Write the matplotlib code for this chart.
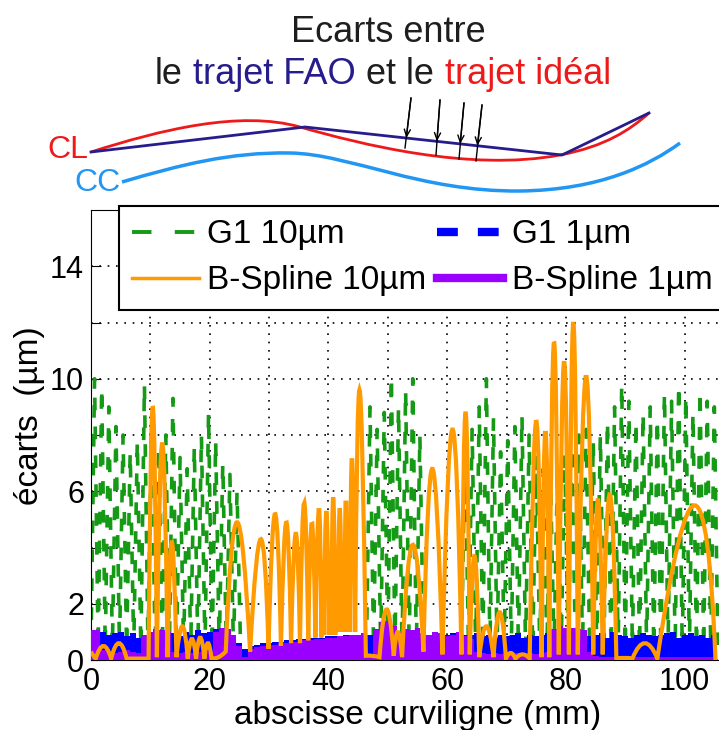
import numpy as np
import matplotlib
matplotlib.use('Agg')
import matplotlib.pyplot as plt
from matplotlib.path import Path
from matplotlib.patches import PathPatch
from matplotlib.lines import Line2D

plt.rcParams['font.family'] = ['Liberation Sans', 'DejaVu Sans']

# ---- donnees (mm / um) ----
# G1 10um : un pic par corde de 1.2 mm, trois troncons visibles
g1_10_starts = [0.0, 46.4, 62.4]
g1_10_peaks = [
    [10.0, 9.7, 9.0, 8.3, 8.0, 7.4, 7.8, 9.8, 8.4, 7.6, 8.0, 9.3, 7.2, 6.8,
     7.6, 8.0, 8.8, 7.8, 7.0, 6.6, 6.0],
    [9.0, 8.2, 8.8, 10.1, 9.0, 9.6, 10.0, 8.0],
    [7.5, 8.2, 9.0, 10.0, 8.6, 7.4, 7.8, 8.3, 8.7, 8.0, 7.2, 6.8, 6.5, 7.0,
     7.3, 7.6, 8.0, 8.2, 7.8, 8.0, 8.5, 9.0, 9.8, 9.2, 8.5, 8.8, 9.0, 8.6,
     9.5, 9.2, 9.8, 9.4, 8.8, 9.6, 9.2, 9.0],
]
g1_10_step = 1.2
g1_10_floor = 0.4

# G1 1um et B-Spline 1um : hauteur de la bande, un point par mm (0..105)
abscisse_mm = np.arange(0, 106)
g1_1_top = [1.0, 0.95, 1.0, 0.9, 0.95, 1.0, 0.85, 0.95, 0.8, 0.9,
            0.95, 1.0, 0.9, 1.0, 0.95, 0.85, 1.0, 0.9, 1.05, 0.95,
            1.0, 1.1, 0.9, 0.95, 0.8, 0.6, 0.4, 0.5, 0.55, 0.6,
            0.6, 0.65, 0.65, 0.7, 0.7, 0.75, 0.75, 0.8, 0.8, 0.8,
            0.85, 0.85, 0.85, 0.9, 0.9, 0.9, 0.9, 0.9, 0.9, 0.9,
            0.9, 0.9, 0.9, 0.9, 0.9, 0.9, 0.9, 0.9, 0.9, 0.9,
            0.9, 0.95, 0.85, 0.9, 0.9, 0.95, 0.85, 0.9, 0.8, 0.9,
            0.85, 0.9, 0.95, 0.8, 0.9, 0.85, 0.9, 0.95, 0.9, 0.9,
            0.9, 0.85, 0.9, 0.95, 0.85, 0.9, 0.95, 0.8, 1.0, 0.9,
            0.85, 0.8, 0.9, 0.95, 0.9, 0.85, 0.9, 0.95, 1.0, 0.8,
            0.9, 0.95, 0.85, 0.9, 0.8, 0.9]
bspline_1_top = [1.05, 1.05, 0.35, 0.3, 0.25, 0.3, 0.35, 0.3, 0.25, 0.9,
                 1.0, 1.1, 1.05, 1.0, 0.3, 0.25, 0.3, 0.25, 0.3, 0.3,
                 0.3, 1.0, 1.15, 1.1, 0.9, 0.5, 0.1, 0.4, 0.45, 0.5,
                 0.55, 0.55, 0.6, 0.6, 0.65, 0.65, 0.7, 0.7, 0.75, 0.75,
                 0.8, 0.8, 0.85, 0.85, 0.9, 0.9, 0.95, 0.2, 1.1, 1.35,
                 1.4, 1.2, 1.0, 1.1, 1.05, 1.15, 0.95, 0.9, 1.0, 0.95,
                 0.85, 0.9, 1.0, 0.85, 0.75, 0.3, 0.25, 0.2, 0.25, 0.2,
                 0.25, 0.2, 0.25, 0.2, 0.25, 0.2, 0.25, 0.3, 1.1, 1.2,
                 1.15, 1.15, 1.1, 1.05, 0.3, 0.15, 0.1, 0.1, 0.1, 0.1,
                 0.1, 0.1, 0.1, 0.1, 0.1, 0.1, 0.1, 0.1, 0.1, 0.1,
                 0.1, 0.1, 0.1, 0.1, 0.1, 0.1]

# B-Spline 10um : creux (x, y) et sommets (x, y) des arches
bs10_valley_x = [0.0, 0.8, 3.4, 6.0, 9.7, 11.1, 12.9, 14.4, 16.3, 17.7,
                 19.1, 20.3, 22.7, 26.8, 29.9, 32.0, 33.7, 35.2, 36.6, 37.8,
                 38.8, 39.2, 40.05, 40.45, 41.15, 41.55, 42.25, 42.65, 43.25, 43.65,
                 44.5, 46.3, 48.6, 51.0, 52.4,
                 56.0, 59.2, 62.4, 63.8, 65.4, 67.8, 69.9, 71.5, 73.9, 75.9,
                 77.2, 78.8, 80.5, 82.0, 84.6, 86.2, 88.5, 91.2, 95.4, 105.2]
bs10_valley_y = [0.3, 0.05, 0.05, 0.05, 0.05, 0.1, 0.1, 0.1, 0.05, 0.05,
                 0.05, 0.05, 0.3, 0.3, 0.4, 0.5, 0.6, 0.6, 0.7, 0.8,
                 0.8, 0.9, 0.9, 0.9, 0.9, 1.0, 1.0, 1.0, 1.0, 1.0,
                 1.0, 0.15, 0.1, 0.15, 0.1,
                 0.3, 0.2, 0.2, 0.2, 0.1, 0.1, 0.05, 0.05, 0.05, 0.1,
                 0.1, 0.2, 0.2, 0.2, 0.2, 0.2, 0.05, 0.05, 0.05, 0.0]
bs10_peak_x = [0.4, 2.1, 4.7, 7.85, 10.4, 12.0, 13.6, 15.4, 17.0, 18.4,
               19.7, 21.5, 24.6, 28.6, 31.0, 32.9, 34.5, 35.9, 37.2, 38.4,
               39.0, 39.65, 40.25, 40.8, 41.35, 41.9, 42.45, 42.95, 43.45, 43.95,
               45.25, 47.45, 49.8, 51.7, 54.2,
               57.5, 60.9, 63.1, 64.6, 66.6, 68.85, 70.7, 72.7, 75.0, 76.55,
               78.0, 79.7, 81.25, 83.4, 85.4, 87.4, 89.85, 93.3, 101.7]
bs10_peak_y = [0.15, 0.5, 0.6, 0.05, 9.0, 7.7, 4.2, 1.2, 0.75, 0.8,
               0.6, 0.1, 4.9, 4.3, 5.2, 4.9, 4.5, 5.6, 4.9, 5.4,
               2.8, 5.3, 3.5, 5.8, 3.2, 5.4, 3.8, 5.9, 4.2, 7.2,
               9.6, 0.15, 1.8, 1.0, 4.1,
               6.8, 8.2, 8.8, 3.7, 1.2, 1.7, 0.25, 0.2, 8.5, 8.2,
               11.3, 10.6, 12.0, 10.1, 5.7, 5.9, 0.08, 0.6, 5.5]

xticks = list(range(0, 101, 10))
xticklabels = ['0', '', '20', '', '40', '', '60', '', '80', '', '100']
yticks = list(range(0, 15, 2))
yticklabels = ['0', '2', '', '6', '', '10', '', '14']

# schema du haut (coordonnees pixel de l'image)
fao_pts = [(91, 152), (305, 127), (562, 155), (649, 113)]
ideal_pts = [(91, 152), (160, 130), (240, 110), (300, 127),
             (360, 144), (470, 172), (560, 155),
             (605, 146.5), (630, 130), (649, 113)]
cc_pts = [(122, 182), (180, 165), (230, 152), (290, 153),
          (350, 154), (420, 192), (520, 191),
          (600, 190), (650, 165), (680, 143)]
arrow_top = [(411, 98), (440, 100), (464, 103), (482, 105)]
arrow_bot = [(405, 148), (436, 155), (459, 159), (476, 161)]

C_G10 = '#159a15'
C_G1 = '#0000ff'
C_BS10 = '#ff9a00'
C_BS1 = '#9900ff'
C_DARK = '#1e1e1e'
C_NAVY = '#261c8c'
C_RED = '#ee1a1a'
C_CC = '#2196f3'


def cubic_path(pts):
    codes = [Path.MOVETO] + [Path.CURVE4] * (len(pts) - 1)
    return Path(pts, codes)


fig = plt.figure(figsize=(7.19, 7.30), dpi=100)

# ---------- schema ----------
sax = fig.add_axes([0, 1 - 200 / 730, 1, 200 / 730])
sax.set_xlim(0, 719)
sax.set_ylim(200, 0)
sax.axis('off')

sax.text(388, 32, 'Ecarts entre', fontsize=26, color=C_DARK, ha='center', va='center')
title_parts = [('le', C_DARK), ('trajet FAO', C_NAVY), ('et le', C_DARK), ('trajet idéal', C_RED)]
t = sax.text(155, 75, title_parts[0][0], fontsize=26, color=title_parts[0][1],
             ha='left', va='center')
for piece, col in title_parts[1:]:
    t = sax.annotate(piece, xy=(1, 0), xycoords=t, xytext=(7.5, 0),
                     textcoords='offset points', fontsize=26, color=col,
                     ha='left', va='bottom')

sax.add_patch(PathPatch(cubic_path(ideal_pts), fill=False, edgecolor=C_RED, lw=2))
fx, fy = zip(*fao_pts)
sax.plot(fx, fy, color=C_NAVY, lw=2)
sax.add_patch(PathPatch(cubic_path(cc_pts), fill=False, edgecolor=C_CC, lw=2.5))
sax.text(68, 150, 'CL', fontsize=23, color=C_RED, ha='center', va='center')
sax.text(97, 183, 'CC', fontsize=23, color=C_CC, ha='center', va='center')

for (xt, yt), (xb, yb) in zip(arrow_top, arrow_bot):
    sax.plot([xt, xb], [yt, yb], color='k', lw=1)
    # pointe de fleche posee sur le trajet FAO
    xm = xt + (xb - xt) * 0.78
    ym = np.interp(xm, fx, fy)
    sax.annotate('', xy=(xm, ym), xytext=(xt, yt),
                 arrowprops=dict(arrowstyle='->,head_length=0.5,head_width=0.22',
                                 color='k', lw=1, shrinkA=0, shrinkB=0))

# ---------- graphe ----------
ax = fig.add_axes([91 / 719, 70 / 730, 653 / 719, 450 / 730])

gx, gy = [], []
for start, peaks in zip(g1_10_starts, g1_10_peaks):
    for k, p in enumerate(peaks):
        x0 = start + k * g1_10_step
        gx += [x0, x0 + g1_10_step / 2]
        gy += [g1_10_floor, p]
    gx += [start + len(peaks) * g1_10_step, np.nan]
    gy += [g1_10_floor, np.nan]
ax.plot(gx, gy, color=C_G10, lw=2.6, linestyle=(0, (3.5, 4.5)), zorder=2)

ax.fill_between(abscisse_mm, 0, g1_1_top, step='mid', color=C_G1, lw=0, zorder=3)
ax.fill_between(abscisse_mm, 0, bspline_1_top, step='mid', color=C_BS1, lw=0, zorder=4)

verts = [(bs10_valley_x[0], bs10_valley_y[0])]
codes = [Path.MOVETO]
for i in range(len(bs10_peak_x)):
    x0, y0 = bs10_valley_x[i], bs10_valley_y[i]
    x1, y1 = bs10_valley_x[i + 1], bs10_valley_y[i + 1]
    cx = 2 * bs10_peak_x[i] - (x0 + x1) / 2
    cy = 2 * bs10_peak_y[i] - (y0 + y1) / 2
    verts += [(cx, cy), (x1, y1)]
    codes += [Path.CURVE3, Path.CURVE3]
ax.add_patch(PathPatch(Path(verts, codes), fill=False, edgecolor=C_BS10, lw=3.0, zorder=5))

ax.set_xlim(0, 110)
ax.set_ylim(0, 16)
ax.set_xticks(xticks)
ax.set_xticklabels(xticklabels)
ax.set_yticks(yticks)
ax.set_yticklabels(yticklabels)
ax.tick_params(direction='in', length=7, labelsize=22, pad=5)
ax.grid(True, color='k', linestyle=(0, (1, 4)), linewidth=1.2)
ax.set_xlabel('abscisse curviligne (mm)', fontsize=24, labelpad=2)
ax.set_ylabel('écarts  (µm)', fontsize=24)
ax.yaxis.set_label_coords(-0.07, 0.544)

handles = [
    Line2D([], [], color=C_G10, lw=2.8, linestyle=(0, (5, 6))),
    Line2D([], [], color=C_BS10, lw=2.5),
    Line2D([], [], color=C_G1, lw=6, linestyle=(0, (2.5, 2.4))),
    Line2D([], [], color=C_BS1, lw=6),
]
labels = ['G1 10µm', 'B-Spline 10µm', 'G1 1µm', 'B-Spline 1µm']
leg = ax.legend(handles, labels, ncol=2, loc='upper left',
                bbox_to_anchor=(0.043, 1.009), borderaxespad=0, fontsize=24,
                handlelength=2.0, handletextpad=0.25, columnspacing=0.3,
                labelspacing=0.45, borderpad=0.4, fancybox=False,
                framealpha=1, edgecolor='k')
leg.get_frame().set_linewidth(1.5)
leg.set_zorder(10)

fig.savefig('out.png', dpi=100)
